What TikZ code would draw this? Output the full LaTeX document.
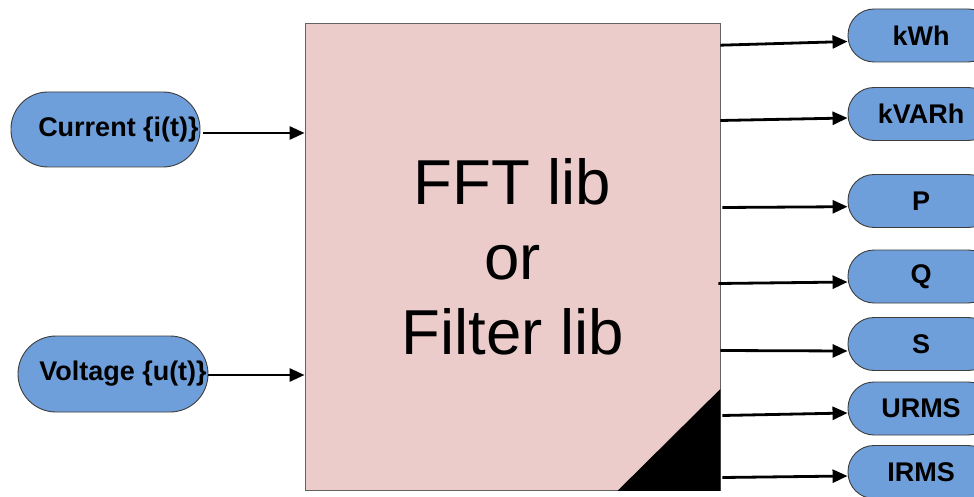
\documentclass[tikz,border=0pt]{standalone}
\usepackage{fontspec}
\setmainfont{Liberation Sans}
\usetikzlibrary{arrows.meta,calc}
\definecolor{pillblue}{RGB}{111,159,219}
\definecolor{boxpink}{RGB}{235,204,203}
\definecolor{edgegray}{RGB}{60,60,60}
\begin{document}
\begin{tikzpicture}[x=1pt,y=-1pt,
  lbl/.style={font=\fontsize{27}{30}\selectfont\bfseries},
  pill/.style={draw=edgegray,line width=0.9pt,fill=pillblue,rectangle,
    rounded corners=#1,inner sep=0pt,lbl},
  pill/.default=26pt,
  conn/.style={line width=2.8pt,-{Triangle[length=15pt,width=13pt]}},
  blk/.style={draw=edgegray!80,line width=0.9pt,fill=boxpink,inner sep=0pt,
    minimum width=415pt,minimum height=466.5pt,align=center,
    font=\fontsize{63.5}{75}\selectfont}]
\useasboundingbox (0,0) rectangle (974,497);

% central processing block
\node[blk] (box) at (512.5,257.2) {FFT lib\\or\\Filter lib};
\fill ([xshift=-103pt]box.south east) -- (box.south east) -- ([yshift=102pt]box.south east) -- cycle;

% inputs
\node[pill=37pt,minimum width=189pt,minimum height=75pt,
  label={[lbl,xshift=13pt,yshift=0pt]center:Current \{i(t)\}}]
  (cur) at (105.5,129.5) {};
\node[pill=38pt,minimum width=190pt,minimum height=76pt,
  label={[lbl,xshift=10pt,yshift=0pt]center:Voltage \{u(t)\}}]
  (volt) at (113,374) {};

% outputs
\foreach \nm/\txt/\cy in {kwh/kWh/35.5, kvarh/kVARh/114, p/P/201, q/Q/276.5, s/S/344, urms/URMS/408.5, irms/IRMS/472}
  \node[pill,minimum width=146pt,minimum height=53pt] (\nm) at (921,\cy) {\txt};

% connectors into the block
\draw[conn] ([xshift=3pt,yshift=-3.5pt]cur.east) -- ([yshift=-3.5pt]box.west |- cur.east);
\draw[conn] ([yshift=-1pt]volt.east) -- ([yshift=-1pt]box.west |- volt.east);

% connectors out of the block
\draw[conn] ([yshift=-21.7pt]box.north east) -- ([yshift=-6pt]kwh.west);
\draw[conn] ([yshift=-97pt]box.north east) -- ([yshift=-4pt]kvarh.west);
\draw[conn] ([xshift=2pt,yshift=-184pt]box.north east) -- ([yshift=-5.7pt]p.west);
\draw[conn] ([xshift=-2pt,yshift=-260pt]box.north east) -- ([yshift=-5.5pt]q.west);
\draw[conn] ([yshift=-327pt]box.north east) -- ([yshift=-7pt]s.west);
\draw[conn] ([xshift=2pt,yshift=-392pt]box.north east) -- ([yshift=-4.5pt]urms.west);
\draw[conn] ([xshift=2pt,yshift=-454pt]box.north east) -- ([yshift=-4pt]irms.west);
\end{tikzpicture}
\end{document}
